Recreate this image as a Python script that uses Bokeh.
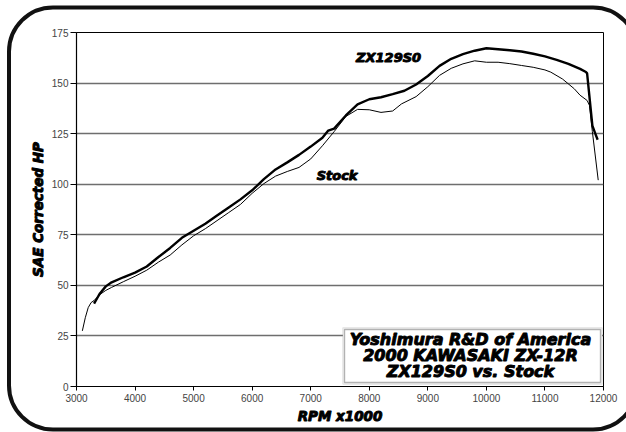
from bokeh.plotting import figure
from bokeh.models import BoxAnnotation, Label, FixedTicker, Range1d, InlineStyleSheet
from bokeh.embed import file_html
from bokeh.resources import INLINE

# ---- data ----
zx_rpm = [3300, 3350, 3400, 3500, 3600, 3800, 4000, 4200, 4400, 4600, 4800, 5000,
          5200, 5400, 5600, 5800, 6000, 6200, 6400, 6600, 6800, 7000, 7200, 7300,
          7400, 7600, 7800, 8000, 8200, 8400, 8600, 8800, 9000, 9200, 9400, 9600,
          9800, 10000, 10200, 10400, 10600, 10800, 11000, 11200, 11400, 11600,
          11700, 11720, 11810, 11860, 11900]
zx_hp = [41, 43.5, 46, 49.5, 51.5, 54, 56.3, 59.3, 64, 68.5, 73.5, 77,
         80.5, 84.5, 88.5, 92.5, 97, 102.5, 107.3, 110.8, 114.5, 118.6, 123, 126.5,
         127.5, 134, 139.5, 142, 143, 144.5, 146.2, 149.3, 153.5, 158.5, 162, 164.3,
         166, 167.2, 166.7, 166.2, 165.6, 164.5, 163.2, 161.5, 159.5, 157,
         155.5, 154.8, 129, 125, 122]

stock_rpm = [3100, 3150, 3200, 3250, 3300, 3400, 3500, 3600, 3800, 4000, 4200, 4400,
             4600, 4800, 5000, 5200, 5400, 5600, 5800, 6000, 6200, 6400, 6600, 6800,
             7000, 7200, 7400, 7600, 7800, 8000, 8200, 8400, 8550, 8800, 9000, 9200,
             9400, 9600, 9800, 10000, 10200, 10400, 10600, 10800, 11000, 11100, 11300,
             11500, 11600, 11720, 11760, 11810, 11910]
stock_hp = [27.5, 34, 39, 41.5, 42.5, 45.5, 47.5, 49, 51.8, 54.5, 57.5, 61.5,
            65, 70, 74.5, 78, 82, 86, 90, 95.5, 100.3, 104, 106.3, 108.3,
            112.5, 119, 126, 133.5, 137, 136.8, 135.5, 136.2, 139.7, 143.3, 148.2, 153.8,
            157.3, 159.5, 161, 160.3, 160.3, 159.6, 158.7, 157.8, 156.5, 155.4, 152,
            147.2, 144, 141.4, 139, 126, 102]

x_ticks = [3000, 4000, 5000, 6000, 7000, 8000, 9000, 10000, 11000, 12000]
y_ticks = [0, 25, 50, 75, 100, 125, 150, 175]

title_lines = ["Yoshimura R&D of America", "2000 KAWASAKI ZX-12R", "ZX129S0 vs. Stock"]
series_names = ["ZX129S0", "Stock"]
x_label = "RPM x1000"
y_label = "SAE Corrected HP"

LABEL_FONT = "DejaVu Sans"

# decorative rounded outer frame (runs off the right edge, as in the original)
frame_svg = ("data:image/svg+xml;utf8,"
             "<svg xmlns='http://www.w3.org/2000/svg' width='626' height='432' viewBox='0 0 626 432'>"
             "<rect x='9' y='7.5' width='628' height='422' rx='44' ry='44' "
             "fill='none' stroke='%23111' stroke-width='4'/></svg>")
frame_css = InlineStyleSheet(css=f"""
:host {{ position: relative; }}
:host::after {{
  content: ''; position: absolute; left: 0; top: 0;
  width: 626px; height: 432px; pointer-events: none;
  background-image: url("{frame_svg}"); background-repeat: no-repeat;
  background-size: 626px 432px;
}}
""")

p = figure(width=626, height=432, output_backend="svg", toolbar_location=None,
           x_range=Range1d(3000, 12000), y_range=Range1d(0, 175),
           min_border_left=76, min_border_right=23, min_border_top=32, min_border_bottom=46,
           background_fill_color="white", border_fill_color="white")
p.stylesheets.append(frame_css)

p.outline_line_color = "black"
p.outline_line_width = 1

p.xgrid.visible = False
p.ygrid.ticker = FixedTicker(ticks=y_ticks)
p.ygrid.grid_line_color = "#6e6e6e"
p.ygrid.grid_line_width = 1.3

for ax, ticks in ((p.xaxis, x_ticks), (p.yaxis, y_ticks)):
    ax.ticker = FixedTicker(ticks=ticks)
    ax.minor_tick_line_color = None
    ax.axis_line_color = "black"
    ax.axis_line_width = 1.2
    ax.major_tick_line_color = "black"
    ax.major_tick_in = 0
    ax.major_label_text_font = "Liberation Sans"
    ax.major_label_text_font_size = "10px"
    ax.major_label_text_color = "#444444"
    ax.axis_label_text_font = LABEL_FONT
    ax.axis_label_text_font_style = "bold italic"
    ax.axis_label_text_font_size = "13.5px"
    ax.axis_label_text_color = "black"
    ax.axis_label_text_outline_color = "black"

p.xaxis.major_tick_out = 4
p.xaxis.major_label_standoff = 3
p.xaxis.axis_label_standoff = 3
p.yaxis.major_tick_out = 6
p.yaxis.major_label_standoff = 2
p.yaxis.axis_label_standoff = 3
p.xaxis.axis_label = x_label
p.yaxis.axis_label = y_label

p.line(stock_rpm, stock_hp, line_color="black", line_width=1)
p.line(zx_rpm, zx_hp, line_color="black", line_width=2.4)

label_style = dict(text_align="center", text_baseline="middle", text_font=LABEL_FONT,
                   text_font_style="bold italic", text_color="black",
                   text_outline_color="black")

# series labels
p.add_layout(Label(x=8330, y=162.6, text=series_names[0], text_font_size="13px", **label_style))
p.add_layout(Label(x=7450, y=104.3, text=series_names[1], text_font_size="13px", **label_style))

# title box (shadow + box)
p.add_layout(BoxAnnotation(left=7550, right=11975, bottom=1.2, top=29.0,
                           fill_color="white", fill_alpha=1,
                           line_color="#9a9a9a", line_width=1.2))
p.add_layout(BoxAnnotation(left=7577, right=11949, bottom=2.0, top=28.2,
                           fill_color="white", fill_alpha=1,
                           line_color="black", line_width=1.4))
for txt, yy in zip(title_lines, [23.2, 15.3, 7.4]):
    p.add_layout(Label(x=9729, y=yy, text=txt, text_font_size="16px", **label_style))

open("out.html", "w").write(file_html(p, INLINE))
